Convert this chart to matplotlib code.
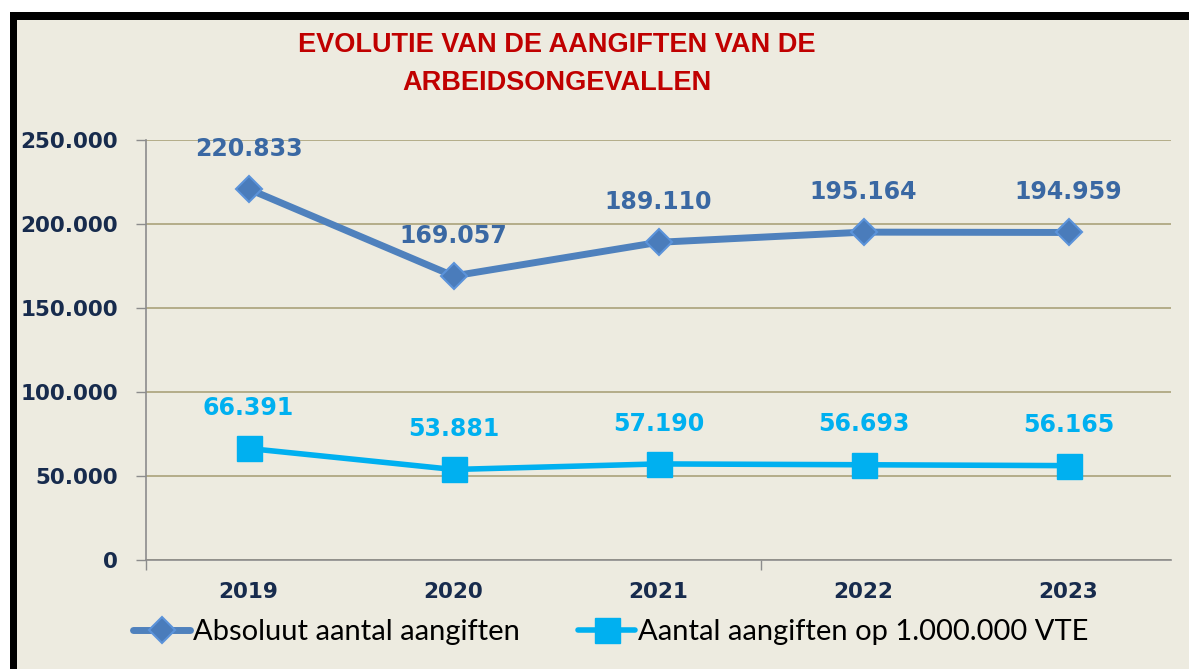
import matplotlib
matplotlib.use("Agg")
import matplotlib.pyplot as plt
from matplotlib.patches import Rectangle

years = ["2019", "2020", "2021", "2022", "2023"]
absoluut = [220833, 169057, 189110, 195164, 194959]
per_miljoen = [66391, 53881, 57190, 56693, 56165]
labels_abs = ["220.833", "169.057", "189.110", "195.164", "194.959"]
labels_per = ["66.391", "53.881", "57.190", "56.693", "56.165"]
y_ticks = [0, 50000, 100000, 150000, 200000, 250000]
y_ticklabels = ["0", "50.000", "100.000", "150.000", "200.000", "250.000"]
series_names = ["Absoluut aantal aangiften", "Aantal aangiften op 1.000.000 VTE"]
title = "EVOLUTIE VAN DE AANGIFTEN VAN DE\nARBEIDSONGEVALLEN"

W, H = 1189, 669
BG = "#EDEBE0"
fig = plt.figure(figsize=(W / 100, H / 100), dpi=100, facecolor="white")

# frame: black border on left/top, beige inside
fig.patches.append(Rectangle((10 / W, 0), 1 - 10 / W, 1 - 12 / H,
                             transform=fig.transFigure, facecolor="black",
                             edgecolor="none", zorder=0))
fig.patches.append(Rectangle((17 / W, 0), 1 - 17 / W, 1 - 20 / H,
                             transform=fig.transFigure, facecolor=BG,
                             edgecolor="none", zorder=1))

ax = fig.add_axes([146 / W, 1 - 560 / H, (1171 - 146) / W, (560 - 140) / H])
ax.set_facecolor("none")
ax.set_zorder(2)

x = list(range(len(years)))
c1, c2 = "#4F81BD", "#00B0F0"
l1, = ax.plot(x, absoluut, color=c1, lw=5, marker="D", markersize=13,
              markerfacecolor="#4A7CBB", markeredgecolor="#5B93DA",
              markeredgewidth=1.5, solid_capstyle="round", zorder=3,
              label=series_names[0])
l2, = ax.plot(x, per_miljoen, color=c2, lw=4, marker="s", markersize=18,
              markerfacecolor=c2, markeredgecolor=c2, zorder=3,
              solid_capstyle="round", label=series_names[1])

for xi, v, t in zip(x, absoluut, labels_abs):
    ax.annotate(t, (xi, v), xytext=(0, 29), textcoords="offset points",
                ha="center", va="center", fontsize=17, fontweight="bold",
                color="#3A68A3", family="DejaVu Sans")
for xi, v, t in zip(x, per_miljoen, labels_per):
    ax.annotate(t, (xi, v), xytext=(0, 29), textcoords="offset points",
                ha="center", va="center", fontsize=17, fontweight="bold",
                color=c2, family="DejaVu Sans")

ax.set_xlim(-0.5, len(years) - 0.5)
ax.set_ylim(0, 250000)
ax.set_yticks(y_ticks)
ax.set_yticklabels(y_ticklabels, fontsize=15.5, fontweight="bold",
                   color="#172B4D", family="DejaVu Sans")
ax.set_xticks(x)
ax.set_xticklabels(years, fontsize=15.5, fontweight="bold",
                   color="#172B4D", family="DejaVu Sans")
ax.set_xticks([-0.5, 2.5], minor=True)
ax.tick_params(axis="x", which="major", length=0, pad=16)
ax.tick_params(axis="x", which="minor", length=7, width=1, color="#8C8C8C",
               direction="out")
ax.tick_params(axis="y", which="major", length=7, width=1, color="#8C8C8C",
               pad=13)

ax.grid(axis="y", color="#AAA27A", lw=1.2)
ax.set_axisbelow(True)
for s in ["top", "right"]:
    ax.spines[s].set_visible(False)
for s in ["left", "bottom"]:
    ax.spines[s].set_color("#8C8C8C")
    ax.spines[s].set_linewidth(1.2)
    ax.spines[s].set_zorder(2.5)

fig.text(557 / W, 1 - 64 / H, title, ha="center", va="center",
         fontsize=19.5, fontweight="bold", color="#C00000",
         family=["Liberation Sans", "DejaVu Sans"], linespacing=1.55)

leg = fig.legend(handles=[l1, l2], loc="center", ncol=2,
                 bbox_to_anchor=(611 / W, 1 - 632 / H), frameon=False,
                 prop={"family": "Lato", "size": 21},
                 handlelength=1.95, handletextpad=0.1, columnspacing=2.0,
                 borderpad=0, borderaxespad=0)
for t in leg.get_texts():
    t.set_color("black")

fig.savefig("out.png", dpi=100, facecolor="white")
